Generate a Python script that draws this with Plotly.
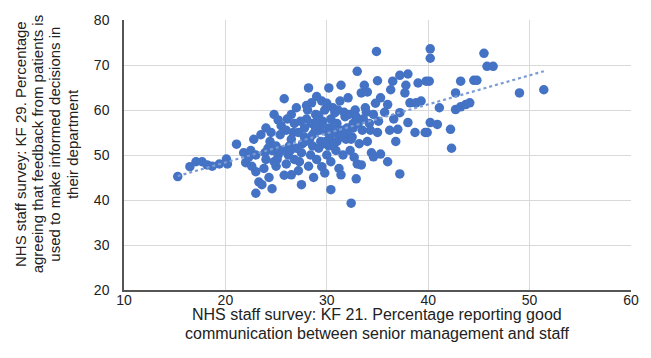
import numpy as np
import plotly.graph_objects as go

kf21 = [
    15.3, 16.5, 17.1, 17.7, 18.2, 18.7, 19.4, 20.1, 20.2,
    21.1, 21.8, 22.0, 22.3, 22.5, 22.8, 23.0, 23.0, 23.3, 23.6, 23.8, 24.0, 24.2, 24.4, 24.5, 24.8,
    24.3, 24.6, 25.0, 25.2, 25.0, 25.4, 25.5, 25.2, 25.8, 24.0, 23.5, 23.0, 22.6, 24.8,
    25.8, 26.0, 26.2, 26.3, 26.5, 26.5, 26.7, 26.8, 26.5, 27.0, 27.2, 27.5, 27.3, 27.5, 27.6, 27.8,
    27.8, 28.0, 28.0, 28.2, 28.5, 27.0, 26.0, 26.8, 28.2, 28.4, 28.6, 28.3, 28.8, 28.5, 28.9, 25.6,
    26.1, 27.4, 28.7,
    29.0, 29.2, 29.4, 29.5, 29.3, 29.6, 29.8, 29.5, 30.0, 30.2, 30.3, 30.2, 30.4, 30.2, 30.4, 30.4,
    30.6, 30.8, 30.8, 30.9, 31.0, 31.0, 31.2, 31.4, 31.4, 31.3, 31.5, 31.6, 29.0, 29.8, 29.1, 30.0,
    29.7, 31.8, 31.9,
    32.1, 32.0, 32.2, 32.4, 32.3, 32.5, 32.6, 32.8, 32.9, 33.0, 33.0, 33.2, 33.4, 33.4, 33.5, 33.6,
    33.8, 34.0, 34.0, 34.2, 34.4, 34.6, 34.9, 34.6, 34.8, 35.0, 35.3, 35.3, 35.0, 33.7, 32.7, 34.3,
    35.1,
    36.0, 36.0, 36.3, 36.5, 36.2, 36.6, 37.0, 37.2, 37.2, 37.2, 37.7, 37.8, 38.0, 38.0, 38.2, 38.7,
    38.8, 39.0, 39.3, 39.7, 39.8, 39.9, 36.8, 35.7,
    40.2, 40.2, 40.1, 40.2, 40.9, 41.1, 42.2, 42.3, 42.7, 42.7, 43.2, 43.2, 43.7, 44.1, 44.5, 44.8,
    45.5, 45.8, 46.4, 49.0, 51.4,
    27.9, 28.6, 29.4, 30.1, 30.7, 31.3, 32.0, 32.6, 33.1, 29.9, 28.9, 31.7, 32.9, 30.5, 27.2,
    26.4, 25.1, 23.9, 24.6, 29.2, 31.1, 33.9, 32.4, 28.1,
]
kf29 = [
    45.2, 47.4, 48.5, 48.5, 47.8, 47.5, 48.0, 49.1, 48.0,
    52.4, 50.5, 48.3, 49.5, 51.0, 53.5, 46.3, 41.5, 44.0, 43.4, 47.0, 49.0, 51.5, 53.0, 55.0, 59.0,
    45.0, 42.5, 47.5, 50.0, 52.0, 54.5, 56.5, 57.8, 62.5, 56.0, 54.5, 50.0, 47.5, 48.5,
    45.5, 48.0, 50.0, 52.0, 53.5, 45.6, 55.0, 57.0, 59.0, 60.5, 46.5, 43.4, 48.5, 50.5, 52.5, 54.0,
    56.0, 58.0, 61.0, 64.9, 61.6, 51.5, 55.5, 49.0, 47.5, 50.0, 52.0, 53.5, 55.0, 57.0, 59.0, 51.0,
    58.0, 57.5, 45.0,
    49.0, 51.5, 53.0, 47.4, 55.5, 57.5, 60.0, 62.0, 50.0, 52.0, 54.0, 56.0, 58.0, 64.9, 48.5, 42.3,
    60.5, 59.4, 55.0, 51.0, 53.0, 57.0, 47.0, 45.6, 65.5, 62.0, 55.5, 50.0, 63.0, 46.0, 58.0, 61.5,
    52.5, 58.5, 53.5,
    62.7, 56.0, 59.0, 39.3, 51.0, 54.0, 57.0, 60.0, 44.7, 68.6, 48.0, 52.5, 63.8, 47.8, 55.5, 58.0,
    60.5, 64.0, 53.0, 57.0, 50.5, 49.6, 73.0, 59.0, 61.5, 55.0, 50.2, 62.7, 66.5, 65.5, 49.5, 55.5,
    57.5,
    48.5, 61.2, 64.5, 66.4, 55.5, 58.0, 55.7, 59.4, 67.7, 45.8, 63.8, 65.5, 57.2, 68.0, 61.6, 55.0,
    61.6, 66.0, 62.0, 55.0, 66.4, 55.0, 53.0, 59.5,
    73.6, 71.5, 66.4, 57.2, 56.8, 60.5, 55.7, 51.5, 63.8, 60.1, 66.4, 60.7, 61.2, 61.6, 66.6, 66.6,
    72.6, 69.7, 69.7, 63.8, 64.5,
    53.0, 54.5, 56.5, 55.0, 56.5, 54.0, 55.0, 56.0, 57.0, 53.0, 56.0, 59.5, 58.5, 52.5, 55.0,
    51.0, 49.0, 50.5, 51.0, 58.8, 60.0, 59.5, 53.5, 60.0,
]

x_title_lines = ["NHS staff survey: KF 21. Percentage reporting good",
                 "communication between senior management and staff"]
y_title_lines = ["NHS staff survey: KF 29. Percentage",
                 "agreeing that feedback from patients is",
                 "used to make informed decisions in",
                 "their department"]

x = np.array(kf21)
y = np.array(kf29)
slope, intercept = np.polyfit(x, y, 1)
tx = np.array([x.min(), x.max()])
ty = slope * tx + intercept

fig = go.Figure()
fig.add_trace(go.Scatter(x=kf21, y=kf29, mode="markers",
                         marker=dict(color="#4472C4", size=9.5, line=dict(width=0)),
                         showlegend=False, hoverinfo="skip"))
fig.add_trace(go.Scatter(x=tx, y=ty, mode="lines",
                         line=dict(color="#7A9BD3", width=2.2, dash="dot"),
                         showlegend=False, hoverinfo="skip"))

# plot area: x 124..635 px, y 16..290 px
for i, line in enumerate(x_title_lines):
    py = 315 + 19 * i
    fig.add_annotation(text=line, xref="paper", yref="paper", x=0.499, y=(290 - py) / 274,
                       xanchor="center", yanchor="middle", showarrow=False,
                       font=dict(size=16, color="#222222"))
for i, line in enumerate(y_title_lines):
    px = 19 + 17.5 * i
    fig.add_annotation(text=line, xref="paper", yref="paper", x=(px - 124) / 511,
                       y=(290 - 142) / 274, xanchor="center", yanchor="middle",
                       showarrow=False, textangle=-90,
                       font=dict(size=15, color="#222222"))

fig.update_layout(
    width=651, height=358,
    margin=dict(l=124, r=16, t=16, b=68),
    paper_bgcolor="white", plot_bgcolor="white",
    font=dict(family="Liberation Sans, Arial, sans-serif", color="#222222"),
    xaxis=dict(range=[10, 60], dtick=10, showgrid=True, gridcolor="#D9D9D9", gridwidth=1,
               showline=True, linecolor="#555555", linewidth=1.5, zeroline=False,
               ticks="", tickfont=dict(size=14), ticklabelstandoff=-4),
    yaxis=dict(range=[20, 80], dtick=10, showgrid=True, gridcolor="#D9D9D9", gridwidth=1,
               showline=True, linecolor="#555555", linewidth=1.5, zeroline=False,
               ticks="", tickfont=dict(size=14), ticklabelstandoff=10),
)

fig.write_html("out.html", config={"displayModeBar": False},
               post_script="document.body.style.margin='0';")
